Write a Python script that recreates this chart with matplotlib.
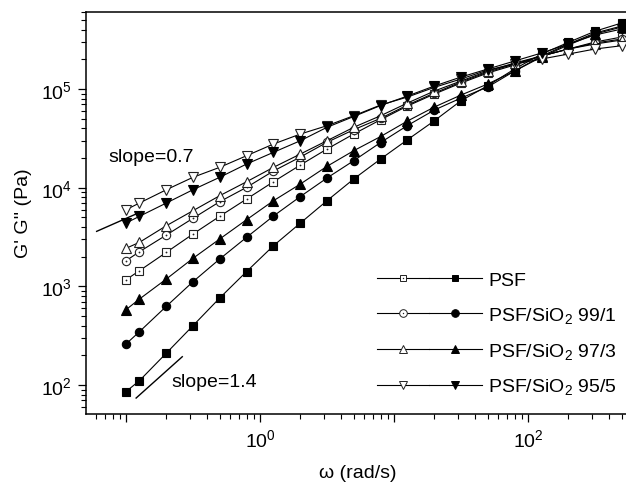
import matplotlib
matplotlib.use('Agg')
import matplotlib.pyplot as plt
from matplotlib.lines import Line2D
from matplotlib.legend_handler import HandlerTuple
from matplotlib.ticker import LogLocator, FuncFormatter, NullFormatter
import numpy as np

plt.rcParams['font.family'] = ['Liberation Sans', 'DejaVu Sans']
plt.rcParams['mathtext.fontset'] = 'custom'
plt.rcParams['mathtext.rm'] = 'Liberation Sans'
plt.rcParams['mathtext.it'] = 'Liberation Sans:italic'
plt.rcParams['mathtext.bf'] = 'Liberation Sans:bold'

# ---------------- data ----------------
omega = [0.1, 0.126, 0.2, 0.316, 0.5, 0.794, 1.26, 2.0, 3.16, 5.0, 7.94,
         12.6, 20.0, 31.6, 50.0, 79.4, 126, 200, 316, 500]

psf_open = [1169, 1443, 2215, 3395, 5131, 7683, 11500, 16980, 24670, 35000,
            48870, 67270, 88980, 115000, 145300, 175100, 216000, 254300, 299400, 336400]
psf_filled = [86, 111, 211, 400, 763, 1415, 2585, 4385, 7385, 12250, 19540,
              30640, 47720, 76100, 108000, 159700, 226000, 297000, 385000, 467000]
s99_open = [1821, 2247, 3317, 4898, 7214, 10090, 14770, 20460, 28840, 38690,
            50480, 68850, 91100, 117700, 148700, 179200, 216000, 254300, 292500, 321200]
s99_filled = [261, 348, 629, 1116, 1895, 3145, 5168, 8144, 12540, 18780, 28710,
              42680, 61270, 81050, 104800, 152200, 216000, 285700, 369400, 434700]
s97_open = [2432, 2797, 4121, 5848, 8297, 11500, 16090, 21950, 29940, 40930,
            53630, 72140, 95430, 120500, 152200, 183400, 216000, 254300, 285700, 313700]
s97_filled = [581, 745, 1189, 1926, 3022, 4741, 7384, 10900, 16470, 23710, 33010,
              47410, 65700, 86960, 112400, 152200, 211000, 279100, 360800, 424800]
s95_open = [5986, 6998, 9543, 12750, 16090, 21100, 27720, 35000, 42480, 53630,
            68850, 82990, 104000, 126300, 155800, 179200, 201400, 226200, 254300, 274600]
s95_filled = [4388, 5131, 6998, 9543, 12750, 17380, 22840, 29940, 40930, 52640,
              68060, 84950, 107300, 132300, 159400, 192200, 231600, 285700, 352500, 405400]

labels = ['PSF', 'PSF/SiO$_2$ 99/1', 'PSF/SiO$_2$ 97/3', 'PSF/SiO$_2$ 95/5']

slope07_x = [0.0604, 0.13]
slope07_y = [3614, 5715]
slope14_x = [0.119, 0.263]
slope14_y = [74, 194]

# ---------------- figure ----------------
W, H = 626, 485
FS = 14
fig = plt.figure(figsize=(W / 100, H / 100), dpi=100)
ax = fig.add_axes([86 / W, 1 - 415 / H, 1 - 86 / W, (415 - 13) / H])

series = [
    (psf_open, psf_filled, 's', 5.5, True),
    (s99_open, s99_filled, 'o', 6.0, True),
    (s97_open, s97_filled, '^', 7.5, False),
    (s95_open, s95_filled, 'v', 7.5, False),
]

lw = 0.8
for op, fi, m, ms, dot in series:
    ax.plot(omega, op, '-', color='black', lw=lw, marker=m, ms=ms,
            mfc='white', mec='#222222', mew=0.8)
    if dot:
        ax.plot(omega, op, linestyle='none', marker='o', ms=1.3,
                mfc='#222222', mec='none')
    ax.plot(omega, fi, '-', color='black', lw=lw, marker=m, ms=ms,
            mfc='black', mec='black', mew=0.8)

ax.plot(slope07_x, slope07_y, '-', color='black', lw=1.0)
ax.plot(slope14_x, slope14_y, '-', color='black', lw=1.0)

ax.set_xscale('log')
ax.set_yscale('log')
ax.set_xlim(0.0503, 538)
ax.set_ylim(51, 6.03e5)

ax.xaxis.set_major_locator(LogLocator(base=10, numticks=20))
ax.xaxis.set_minor_locator(LogLocator(base=10, subs=np.arange(2, 10), numticks=30))
ax.yaxis.set_major_locator(LogLocator(base=10, numticks=20))
ax.yaxis.set_minor_locator(LogLocator(base=10, subs=np.arange(2, 10), numticks=30))


def xfmt(v, pos):
    e = int(round(np.log10(v)))
    return f'$10^{{{e}}}$' if e % 2 == 0 else ''


def yfmt(v, pos):
    e = int(round(np.log10(v)))
    return f'$10^{{{e}}}$'


ax.xaxis.set_major_formatter(FuncFormatter(xfmt))
ax.yaxis.set_major_formatter(FuncFormatter(yfmt))
ax.xaxis.set_minor_formatter(NullFormatter())
ax.yaxis.set_minor_formatter(NullFormatter())

ax.tick_params(which='major', direction='out', length=6, width=0.9,
               labelsize=FS, pad=4)
ax.tick_params(which='minor', direction='out', length=3.5, width=0.8)
ax.tick_params(top=False, right=False)
for s in ['left', 'bottom', 'top']:
    ax.spines[s].set_linewidth(1.1)
ax.spines['right'].set_visible(False)

ax.set_xlabel('ω (rad/s)', fontsize=FS)
ax.xaxis.set_label_coords((358 - 86) / 540, (415 - 465) / 402)
ax.set_ylabel("G' G'' (Pa)", fontsize=FS)
ax.yaxis.set_label_coords((32 - 86) / 540, (415 - 213) / 402)

ax.text(0.0734, 2.05e4, 'slope=0.7', fontsize=FS, va='center', ha='left')
ax.text(0.219, 1.08e2, 'slope=1.4', fontsize=FS, va='center', ha='left')


# ---------------- legend ----------------
class PairHandle(tuple):
    pass


handles = []
for (op, fi, m, ms, dot) in series:
    lms = 4.5 if m == 's' else 5.5
    o = Line2D([], [], color='black', lw=lw, marker=m, ms=lms,
               mfc='white', mec='#222222', mew=0.7)
    if dot:
        d = Line2D([], [], linestyle='none', marker='o', ms=1.0,
                   mfc='#222222', mec='none')
        o = (o, d)
    f = Line2D([], [], color='black', lw=lw, marker=m, ms=lms,
               mfc='black', mec='black', mew=0.7)
    handles.append(PairHandle((o, f)))

leg = ax.legend(handles, labels,
                handler_map={PairHandle: HandlerTuple(ndivide=None, pad=0),
                             tuple: HandlerTuple(ndivide=1)},
                loc='upper left', bbox_to_anchor=(376.7 / W, 1 - 272 / H),
                bbox_transform=fig.transFigure, frameon=False,
                borderpad=0, borderaxespad=0, fontsize=FS,
                handlelength=5.4, handletextpad=0.32, labelspacing=0.82,
                numpoints=1)

fig.savefig('out.png', dpi=100)
